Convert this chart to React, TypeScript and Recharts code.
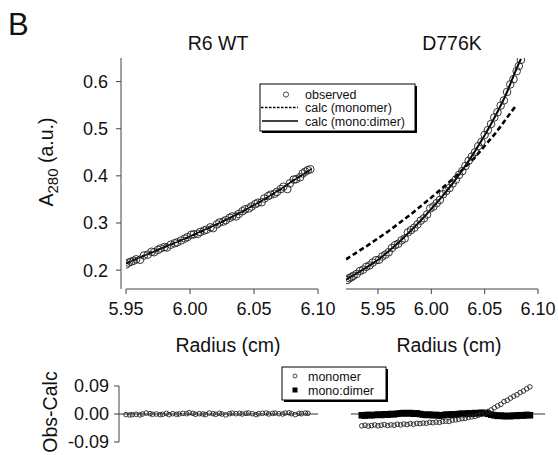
import React from 'react';
import {
  ComposedChart,
  ScatterChart,
  Scatter,
  Line,
  XAxis,
  YAxis,
  ReferenceLine,
} from 'recharts';

const W = 558;
const H = 455;
const FONT = '"Liberation Sans", Arial, Helvetica, sans-serif';

// --- R6 WT, absorbance vs radius ---
const wtRadius = [
  5.95, 5.952, 5.954, 5.956, 5.958, 5.961, 5.964, 5.967, 5.97, 5.972, 5.975, 5.977, 5.98, 5.982,
  5.985, 5.988, 5.99, 5.993, 5.996, 5.998, 6.001, 6.003, 6.006, 6.008, 6.011, 6.013, 6.016, 6.018,
  6.021, 6.023, 6.026, 6.028, 6.031, 6.033, 6.036, 6.038, 6.041, 6.043, 6.046, 6.048, 6.051, 6.053,
  6.056, 6.058, 6.061, 6.063, 6.066, 6.068, 6.071, 6.073, 6.076, 6.078, 6.081, 6.083, 6.086, 6.088,
  6.09, 6.092, 6.094,
];
const wtObserved = [
  0.212, 0.216, 0.218, 0.22, 0.223, 0.222, 0.231, 0.233, 0.239, 0.238, 0.243, 0.246, 0.249, 0.248,
  0.254, 0.257, 0.259, 0.263, 0.267, 0.27, 0.275, 0.276, 0.277, 0.281, 0.284, 0.286, 0.291, 0.289,
  0.297, 0.301, 0.303, 0.306, 0.311, 0.314, 0.314, 0.319, 0.325, 0.329, 0.331, 0.335, 0.34, 0.343,
  0.344, 0.352, 0.357, 0.36, 0.362, 0.366, 0.372, 0.377, 0.372, 0.384, 0.392, 0.393, 0.397, 0.405,
  0.409, 0.412, 0.414,
];
const wtFitRadius = [5.95, 5.96, 5.97, 5.98, 5.99, 6.0, 6.01, 6.02, 6.03, 6.04, 6.05, 6.06, 6.07, 6.08, 6.09, 6.095];
const wtFitMonomer = [0.214, 0.226, 0.238, 0.249, 0.26, 0.271, 0.283, 0.296, 0.309, 0.323, 0.338, 0.353, 0.37, 0.389, 0.406, 0.415];
const wtFitMonoDimer = [0.214, 0.226, 0.237, 0.249, 0.26, 0.272, 0.284, 0.296, 0.309, 0.323, 0.338, 0.354, 0.371, 0.389, 0.406, 0.415];

// --- D776K, absorbance vs radius ---
const mutRadius = [
  5.921, 5.923, 5.925, 5.927, 5.93, 5.933, 5.936, 5.939, 5.942, 5.945, 5.948, 5.951, 5.954, 5.957,
  5.96, 5.963, 5.966, 5.969, 5.972, 5.975, 5.978, 5.981, 5.984, 5.987, 5.99, 5.993, 5.996, 5.999,
  6.002, 6.005, 6.008, 6.011, 6.014, 6.017, 6.02, 6.023, 6.026, 6.029, 6.032, 6.035, 6.038, 6.041,
  6.044, 6.047, 6.05, 6.053, 6.056, 6.059, 6.062, 6.065, 6.068, 6.071, 6.074, 6.077, 6.08, 6.082,
  6.084,
];
const mutObserved = [
  0.179, 0.183, 0.185, 0.188, 0.192, 0.198, 0.201, 0.207, 0.21, 0.216, 0.221, 0.222, 0.229, 0.233,
  0.238, 0.247, 0.253, 0.256, 0.263, 0.267, 0.28, 0.285, 0.29, 0.297, 0.305, 0.31, 0.318, 0.331,
  0.335, 0.342, 0.349, 0.361, 0.368, 0.374, 0.384, 0.392, 0.402, 0.41, 0.421, 0.432, 0.441, 0.45,
  0.463, 0.472, 0.487, 0.497, 0.51, 0.524, 0.535, 0.549, 0.56, 0.578, 0.594, 0.605, 0.622, 0.633,
  0.646,
];
const mutFitRadius = [5.92, 5.93, 5.94, 5.95, 5.96, 5.97, 5.98, 5.99, 6.0, 6.01, 6.02, 6.03, 6.04, 6.05, 6.06, 6.07, 6.08, 6.084];
const mutFitMonoDimer = [0.18, 0.193, 0.207, 0.222, 0.24, 0.26, 0.282, 0.305, 0.33, 0.356, 0.384, 0.415, 0.449, 0.486, 0.527, 0.573, 0.628, 0.648];
const monoRadius = [5.92, 5.94, 5.96, 5.98, 6.0, 6.02, 6.04, 6.06, 6.08];
const mutFitMonomer = [0.223, 0.252, 0.283, 0.317, 0.354, 0.393, 0.437, 0.49, 0.551];

// --- residuals ---
const wtResidRadius = [
  5.948, 5.951, 5.953, 5.956, 5.959, 5.961, 5.964, 5.967, 5.969, 5.972, 5.975, 5.977, 5.98, 5.982,
  5.985, 5.988, 5.99, 5.993, 5.996, 5.998, 6.001, 6.003, 6.006, 6.009, 6.011, 6.014, 6.017, 6.019,
  6.022, 6.024, 6.027, 6.03, 6.032, 6.035, 6.038, 6.04, 6.043, 6.045, 6.048, 6.051, 6.053, 6.056,
  6.059, 6.061, 6.064, 6.066, 6.069, 6.072, 6.074, 6.077, 6.079, 6.082, 6.085, 6.087, 6.09, 6.092,
];
const wtResid = [
  -0.002, -0.003, -0.002, -0.001, -0.003, 0.0, 0.003, 0.001, -0.001, 0.0, -0.002, -0.001, 0.002, -0.002,
  0.001, -0.001, 0.0, 0.002, 0.001, 0.004, 0.002, -0.001, 0.001, 0.0, -0.002, 0.003, 0.001, -0.001,
  0.002, 0.0, -0.003, 0.001, 0.003, 0.001, 0.002, 0.0, 0.002, 0.003, 0.001, -0.002, 0.001, 0.002,
  0.003, 0.0, 0.002, 0.003, 0.001, 0.0, 0.003, 0.004, 0.001, -0.002, 0.002, 0.001, 0.003, 0.002,
];
const mutResidRadius = [
  5.93, 5.933, 5.936, 5.939, 5.942, 5.945, 5.948, 5.951, 5.954, 5.957, 5.96, 5.963, 5.966, 5.969,
  5.972, 5.975, 5.978, 5.981, 5.984, 5.987, 5.99, 5.993, 5.996, 5.999, 6.002, 6.005, 6.008, 6.011,
  6.014, 6.017, 6.02, 6.023, 6.026, 6.029, 6.032, 6.035, 6.038, 6.041, 6.044, 6.047, 6.05, 6.053,
  6.056, 6.059, 6.062, 6.065, 6.068, 6.071, 6.074, 6.077, 6.08, 6.083, 6.086,
];
const mutResidMonomer = [
  -0.038, -0.036, -0.039, -0.037, -0.035, -0.038, -0.036, -0.034, -0.037, -0.035, -0.036, -0.033, -0.035, -0.032,
  -0.034, -0.031, -0.033, -0.03, -0.031, -0.029, -0.03, -0.027, -0.028, -0.026, -0.027, -0.024, -0.023, -0.024,
  -0.02, -0.019, -0.017, -0.015, -0.014, -0.011, -0.009, -0.008, -0.004, -0.001, 0.004, 0.008, 0.013, 0.02,
  0.026, 0.031, 0.04, 0.044, 0.051, 0.057, 0.062, 0.069, 0.074, 0.081, 0.087,
];
const mutResidMonoDimer = [
  -0.004, -0.005, -0.003, -0.004, -0.003, -0.002, -0.003, -0.001, -0.002, 0.0, -0.001, 0.001, 0.002, 0.003,
  0.002, 0.003, 0.001, 0.002, 0.0, -0.002, -0.003, -0.002, -0.004, -0.003, -0.005, -0.004, -0.002, -0.003,
  -0.001, -0.002, 0.0, 0.001, 0.0, 0.002, 0.001, 0.003, 0.002, 0.004, 0.003, 0.001, -0.002, -0.004,
  -0.006, -0.005, -0.007, -0.006, -0.007, -0.005, -0.006, -0.004, -0.005, -0.003, -0.004,
];

const radiusTicks = [5.95, 6.0, 6.05, 6.1];
const absTicks = [0.2, 0.3, 0.4, 0.5, 0.6];
const residTicks = [-0.09, 0, 0.09];

const pts = (xs: number[], ys: number[]) => xs.map((x, i) => ({ x, y: ys[i] }));

const AXIS = '#444';
const tickStyle = { fontSize: 18, fill: '#111', fontFamily: FONT };

const ring = (r: number) => (p: any) =>
  <circle cx={p.cx} cy={p.cy} r={r} fill="none" stroke="#222" strokeWidth={0.9} />;
const square = (p: any) => <rect x={p.cx - 3.3} y={p.cy - 3.3} width={6.6} height={6.6} fill="#000" />;

const layer: React.CSSProperties = { position: 'absolute', left: 0, top: 0, width: W, height: H };

export default function App() {
  return (
    <div style={{ position: 'absolute', left: 0, top: 0, width: W, height: H, background: '#fff', fontFamily: FONT }}>
      {/* R6 WT */}
      <div style={layer}>
        <ComposedChart width={W} height={H} margin={{ top: 58, right: 240, bottom: 136, left: 61 }}>
          <XAxis
            type="number"
            dataKey="x"
            domain={[5.95, 6.1]}
            ticks={radiusTicks}
            tickFormatter={(v: number) => v.toFixed(2)}
            padding={{ left: 5, right: 0 }}
            axisLine={false}
            tickLine={{ stroke: AXIS }}
            tickSize={5}
            tickMargin={8}
            height={30}
            tick={tickStyle}
            allowDataOverflow
          />
          <YAxis
            type="number"
            dataKey="y"
            domain={[0.16, 0.65]}
            ticks={absTicks}
            tickFormatter={(v: number) => v.toFixed(1)}
            width={60}
            axisLine={{ stroke: AXIS }}
            tickLine={{ stroke: AXIS }}
            tickSize={5}
            tickMargin={8}
            tick={tickStyle}
            allowDataOverflow
          />
          <ReferenceLine segment={[{ x: 5.95, y: 0.16 }, { x: 6.1, y: 0.16 }]} stroke={AXIS} />
          <Line data={pts(wtFitRadius, wtFitMonomer)} dataKey="y" stroke="#000" strokeWidth={2}
            strokeDasharray="5 3" dot={false} isAnimationActive={false} />
          <Line data={pts(wtFitRadius, wtFitMonoDimer)} dataKey="y" stroke="#000" strokeWidth={1.5}
            dot={false} isAnimationActive={false} />
          <Scatter data={pts(wtRadius, wtObserved)} shape={ring(3.8)} isAnimationActive={false} />
        </ComposedChart>
      </div>

      {/* D776K */}
      <div style={layer}>
        <ComposedChart width={W} height={H} margin={{ top: 58, right: 20, bottom: 136, left: 346 }}>
          <XAxis
            type="number"
            dataKey="x"
            domain={[5.92, 6.1]}
            ticks={radiusTicks}
            tickFormatter={(v: number) => v.toFixed(2)}
            axisLine={{ stroke: AXIS }}
            tickLine={{ stroke: AXIS }}
            tickSize={5}
            tickMargin={8}
            height={30}
            tick={tickStyle}
            allowDataOverflow
          />
          <YAxis type="number" dataKey="y" domain={[0.16, 0.65]} hide width={0} allowDataOverflow />
          <Line data={pts(monoRadius, mutFitMonomer)} dataKey="y" stroke="#000" strokeWidth={2.6}
            strokeDasharray="5 3" dot={false} isAnimationActive={false} />
          <Line data={pts(mutFitRadius, mutFitMonoDimer)} dataKey="y" stroke="#000" strokeWidth={2}
            type="monotone" dot={false} isAnimationActive={false} />
          <Scatter data={pts(mutRadius, mutObserved)} shape={ring(3.8)} isAnimationActive={false} />
        </ComposedChart>
      </div>

      {/* residuals, R6 WT */}
      <div style={layer}>
        <ScatterChart width={W} height={H} margin={{ top: 386, right: 240, bottom: 13, left: 59 }}>
          <XAxis type="number" dataKey="x" domain={[5.95, 6.1]} padding={{ left: 7, right: 0 }} hide height={0} />
          <YAxis
            type="number"
            dataKey="y"
            domain={[-0.09, 0.09]}
            ticks={residTicks}
            tickFormatter={(v: number) => v.toFixed(2)}
            width={60}
            axisLine={{ stroke: AXIS }}
            tickLine={{ stroke: AXIS }}
            tickSize={5}
            tickMargin={5}
            tick={tickStyle}
          />
          <ReferenceLine y={0} stroke="#333" />
          <Scatter data={pts(wtResidRadius, wtResid)} shape={ring(2.3)} isAnimationActive={false} />
        </ScatterChart>
      </div>

      {/* residuals, D776K */}
      <div style={layer}>
        <ScatterChart width={W} height={H} margin={{ top: 386, right: 13, bottom: 13, left: 351 }}>
          <XAxis type="number" dataKey="x" domain={[5.92, 6.1]} hide height={0} />
          <YAxis type="number" dataKey="y" domain={[-0.09, 0.09]} hide width={0} />
          <ReferenceLine y={0} stroke="#333" />
          <Scatter data={pts(mutResidRadius, mutResidMonoDimer)} shape={square} isAnimationActive={false} />
          <Scatter data={pts(mutResidRadius, mutResidMonomer)} shape={ring(2.3)} isAnimationActive={false} />
        </ScatterChart>
      </div>

      {/* labels and legends */}
      <svg width={W} height={H} style={{ ...layer, pointerEvents: 'none' }} fontFamily={FONT} fill="#111">
        <text x={8} y={35} fontSize={31}>B</text>
        <text x={218} y={50} fontSize={19.5} textAnchor="middle">R6 WT</text>
        <text x={452} y={50} fontSize={19.5} textAnchor="middle">D776K</text>
        <text x={228} y={352} fontSize={19.5} textAnchor="middle">Radius (cm)</text>
        <text x={449} y={352} fontSize={19.5} textAnchor="middle">Radius (cm)</text>
        <text transform="translate(53,162) rotate(-90)" fontSize={19.5} textAnchor="middle">
          A<tspan fontSize={15} dy={5}>280</tspan><tspan dy={-5}> (a.u.)</tspan>
        </text>
        <text transform="translate(57,412) rotate(-90)" fontSize={19.5} textAnchor="middle">Obs-Calc</text>

        <rect x={262} y={86} width={155} height={47} fill="#000" />
        <rect x={260} y={84} width={155} height={47} fill="#fff" stroke="#000" strokeWidth={1} />
        <circle cx={286} cy={94.5} r={2.6} fill="none" stroke="#333" strokeWidth={0.9} />
        <line x1={261} x2={298} y1={107.5} y2={107.5} stroke="#000" strokeWidth={1.3} strokeDasharray="2.5 1.5" />
        <line x1={262} x2={298} y1={121} y2={121} stroke="#000" strokeWidth={1.3} />
        <text x={305} y={98.5} fontSize={12.5}>observed</text>
        <text x={305} y={112} fontSize={12.5}>calc (monomer)</text>
        <text x={305} y={125.5} fontSize={12.5}>calc (mono:dimer)</text>

        <rect x={284} y={369} width={104} height={33} fill="#000" />
        <rect x={282} y={367} width={104} height={33} fill="#fff" stroke="#000" strokeWidth={1} />
        <circle cx={295} cy={376} r={2} fill="none" stroke="#333" strokeWidth={0.9} />
        <rect x={292.5} y={387.5} width={5} height={5} fill="#000" />
        <text x={308} y={380.5} fontSize={12.5}>monomer</text>
        <text x={308} y={394.5} fontSize={12.5}>mono:dimer</text>
      </svg>
    </div>
  );
}
